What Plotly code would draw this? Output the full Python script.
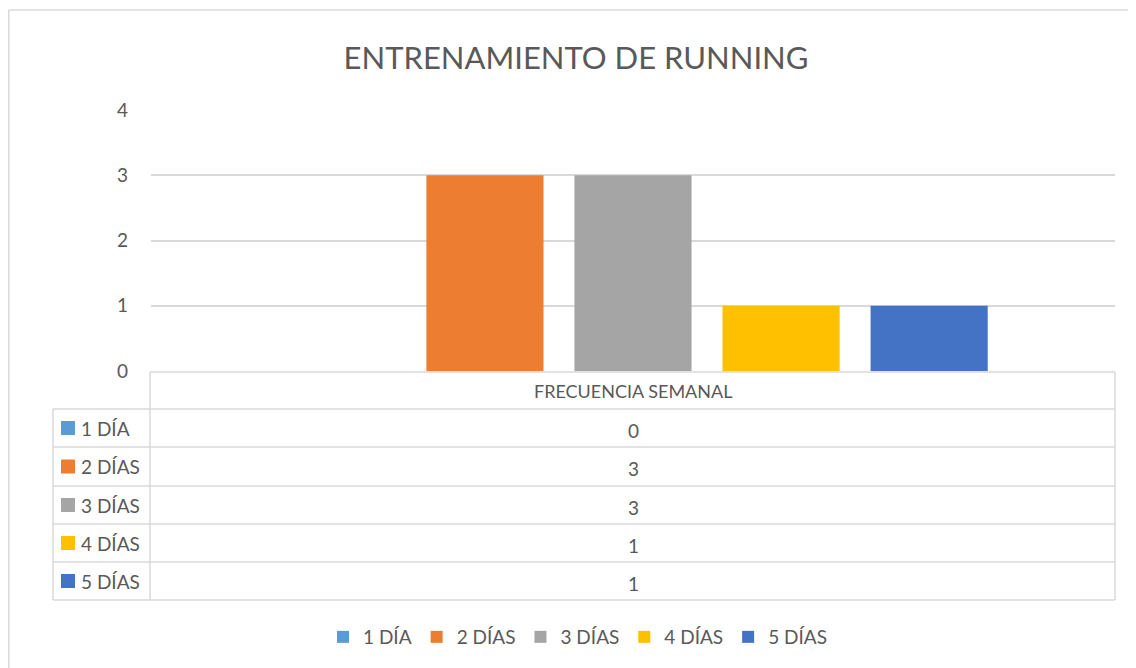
import plotly.graph_objects as go

series_names = ["1 DÍA", "2 DÍAS", "3 DÍAS", "4 DÍAS", "5 DÍAS"]
series_values = [0, 3, 3, 1, 1]
category = ["FRECUENCIA SEMANAL"]
colors = ["#5B9BD5", "#ED7D31", "#A5A5A5", "#FFC000", "#4472C4"]
title_text = "ENTRENAMIENTO DE RUNNING"
y_ticks = [0, 1, 2, 3, 4]

OFF = 8  # page body margin
W, H = 1136 - OFF, 668 - OFF
L = 151 - OFF
T = 110 - OFF
PB = 371 - OFF
R = W - (1115 - OFF)
B = H - PB
PW, PH = W - L - R, H - T - B
FONT = "Lato"
TXT = "#595959"
GRID = "#D9D9D9"

def fx(px):
    return (px - OFF - L) / PW

def fy(py):
    return (PB - (py - OFF)) / PH

fig = go.Figure()
for name, val, col in zip(series_names, series_values, colors):
    fig.add_trace(go.Bar(x=category, y=[val], name=name, marker=dict(color=col, line=dict(width=0))))

shapes = []
def line(x0, y0, x1, y1, w=1.5):
    shapes.append(dict(type="line", xref="paper", yref="paper", x0=fx(x0), y0=fy(y0), x1=fx(x1), y1=fy(y1),
                       line=dict(color=GRID, width=w), layer="above"))

# outer chart frame
line(8.8, 10, 1140, 10, 1.5)
line(8.8, 10, 8.8, 672, 1.5)

# data table
row_tops = [409, 447, 486, 524, 562, 600]
line(150, 372, 1115, 372)
line(150, 372, 150, 600)
line(1115, 372, 1115, 600)
line(53, 409, 53, 600)
for ry in row_tops:
    line(53, ry, 1115, ry)

annotations = [dict(text=category[0], xref="paper", yref="paper", x=fx(633), y=fy(391),
                    xanchor="center", yanchor="middle",
                    showarrow=False, font=dict(family=FONT, size=18, color=TXT))]
for i, (name, val, col) in enumerate(zip(series_names, series_values, colors)):
    cy = (row_tops[i] + row_tops[i + 1]) / 2
    shapes.append(dict(type="rect", xref="paper", yref="paper", x0=fx(61), x1=fx(75), y0=fy(cy + 7), y1=fy(cy - 7),
                       fillcolor=col, line=dict(width=0), layer="above"))
    annotations.append(dict(text=name, xref="paper", yref="paper", x=fx(79), y=fy(cy), xanchor="left",
                            yanchor="middle",
                            showarrow=False, font=dict(family=FONT, size=19, color=TXT)))
    annotations.append(dict(text=str(val), xref="paper", yref="paper", x=fx(633), y=fy(cy + 2),
                            xanchor="center", yanchor="middle",
                            showarrow=False, font=dict(family=FONT, size=19, color=TXT)))

fig.update_layout(
    width=W, height=H,
    margin=dict(l=L, r=R, t=T, b=B),
    paper_bgcolor="white", plot_bgcolor="white",
    title=dict(text=title_text, x=fx(576), xref="paper", xanchor="center", y=1 - (58 - OFF) / H, yanchor="middle",
               font=dict(family=FONT, size=31, color=TXT)),
    barmode="group", bargap=0.232, bargroupgap=0.209,
    xaxis=dict(showticklabels=False, showgrid=False, zeroline=False, showline=False),
    yaxis=dict(range=[0, 4], tickvals=y_ticks, showgrid=True, gridcolor=GRID, gridwidth=1.5,
               zeroline=False, showline=False, ticks="", ticklabelstandoff=22,
               tickfont=dict(family=FONT, size=19, color=TXT)),
    showlegend=True,
    legend=dict(orientation="h", x=fx(323), xanchor="left", y=fy(637), yanchor="middle",
                font=dict(family=FONT, size=19, color=TXT), itemwidth=30, traceorder="normal"),
    shapes=shapes, annotations=annotations,
)

fig.write_html("out.html")
